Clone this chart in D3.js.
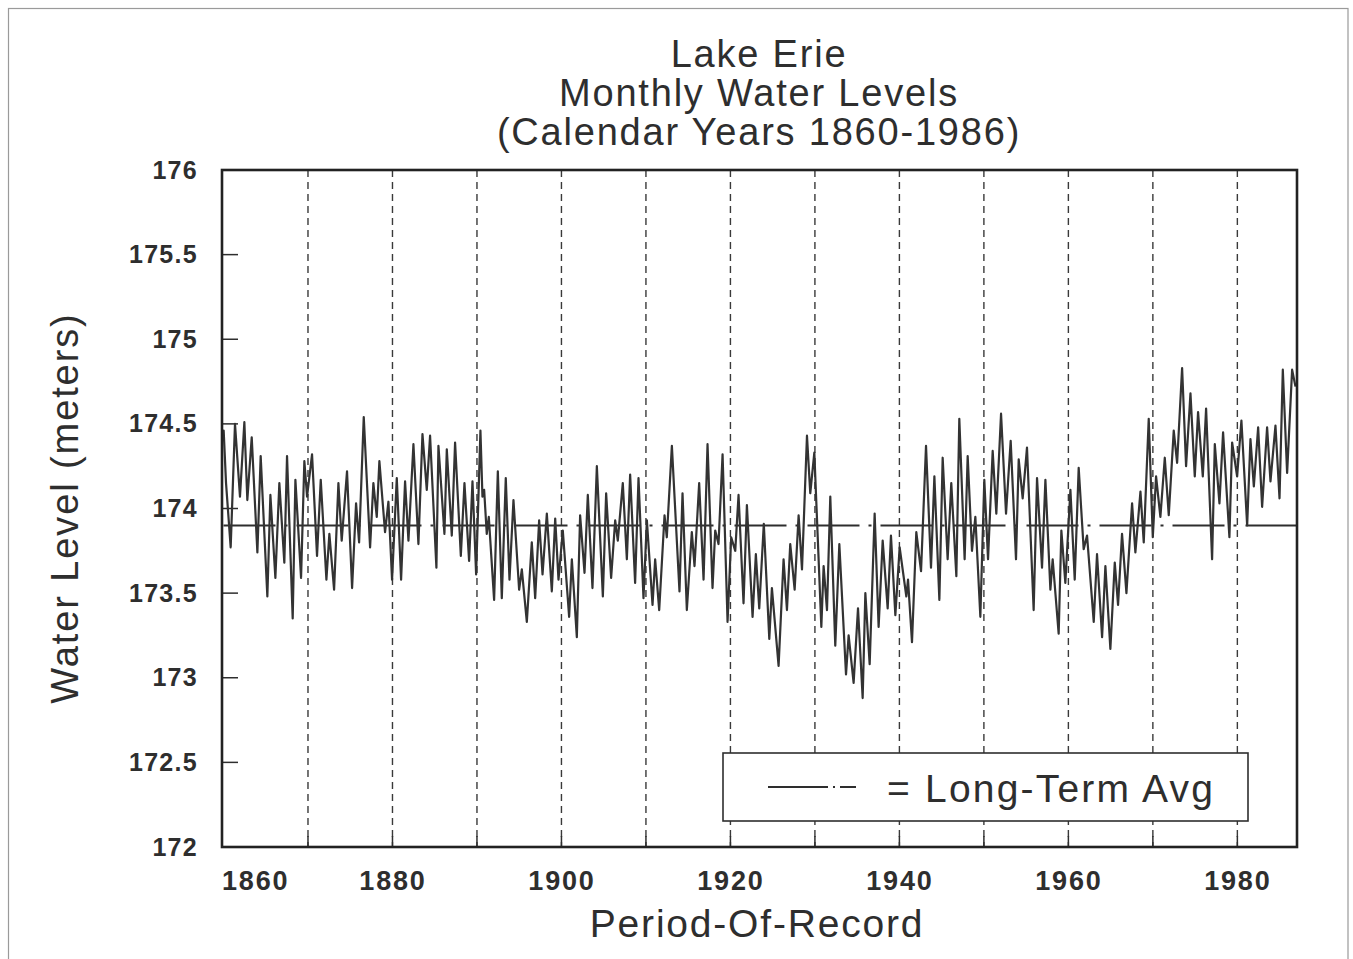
<!DOCTYPE html>
<html>
<head>
<meta charset="utf-8">
<script src="https://cdn.jsdelivr.net/npm/d3@7"></script>
<style>
  body { margin: 0; background: #fff; }
  svg { display: block; }
</style>
</head>
<body>
<svg id="chart" width="1353" height="959"></svg>
<script>
// ---------------- data ----------------
const titleLines = ["Lake Erie", "Monthly Water Levels", "(Calendar Years 1860-1986)"];
const yAxisTitle = "Water Level (meters)";
const xAxisTitle = "Period-Of-Record";
const legendText = "= Long-Term Avg";
const yTickValues = [176, 175.5, 175, 174.5, 174, 173.5, 173, 172.5, 172];
const yInnerTicks = [175.5, 175, 174.5, 174, 173.5, 173, 172.5];
const xLabelYears = [1860, 1880, 1900, 1920, 1940, 1960, 1980];
const gridYears = [1870, 1880, 1890, 1900, 1910, 1920, 1930, 1940, 1950, 1960, 1970, 1980];
const xDomain = [1860, 1987];
const yDomain = [172, 176];
const longTermAvg = 173.9;

const obsYear = [
  1860.00,1860.02,1860.30,1860.85,1861.36,1861.95,1862.47,1862.82,1863.34,1864.01,
  1864.40,1865.19,1865.55,1866.14,1866.61,1867.20,1867.52,1868.19,1868.51,1869.18,
  1869.57,1869.89,1870.48,1871.07,1871.51,1872.18,1872.53,1873.09,1873.60,1873.99,
  1874.62,1875.22,1875.69,1876.05,1876.60,1877.35,1877.74,1878.14,1878.45,1879.12,
  1879.52,1879.95,1880.51,1881.02,1881.49,1881.89,1882.48,1883.07,1883.55,1884.06,
  1884.45,1885.20,1885.44,1886.15,1886.43,1887.02,1887.41,1888.09,1888.52,1889.07,
  1889.47,1889.90,1890.41,1890.65,1890.85,1891.16,1891.40,1892.03,1892.47,1892.94,
  1893.41,1893.85,1894.32,1894.99,1895.31,1895.90,1896.49,1896.89,1897.36,1897.76,
  1898.27,1898.86,1899.26,1899.65,1900.16,1900.91,1901.23,1901.82,1902.21,1902.73,
  1903.12,1903.67,1904.19,1904.90,1905.29,1905.88,1906.36,1906.67,1907.26,1907.74,
  1908.13,1908.72,1909.12,1909.71,1910.11,1910.78,1911.09,1911.57,1912.20,1912.47,
  1913.07,1913.97,1914.33,1914.84,1915.43,1915.75,1916.30,1916.82,1917.29,1917.88,
  1918.20,1918.59,1919.07,1919.66,1920.09,1920.57,1920.96,1921.55,1921.95,1922.62,
  1923.01,1923.41,1923.95,1924.60,1924.91,1925.70,1926.29,1926.69,1927.08,1927.60,
  1928.07,1928.47,1929.06,1929.45,1929.93,1930.76,1931.03,1931.43,1931.82,1932.41,
  1932.89,1933.68,1933.99,1934.58,1935.10,1935.65,1935.97,1936.48,1937.07,1937.54,
  1938.02,1938.61,1939.00,1939.52,1940.03,1940.82,1941.02,1941.49,1942.00,1942.56,
  1943.15,1943.74,1944.14,1944.73,1945.12,1945.71,1946.14,1946.74,1947.09,1947.72,
  1948.08,1948.59,1948.99,1949.58,1950.05,1950.49,1951.04,1951.47,1952.03,1952.62,
  1953.17,1953.80,1954.12,1954.59,1955.10,1955.89,1956.29,1956.88,1957.28,1957.87,
  1958.14,1958.85,1959.17,1959.64,1960.24,1960.75,1961.22,1961.81,1962.21,1963.00,
  1963.39,1963.99,1964.38,1964.97,1965.49,1965.88,1966.35,1966.87,1967.54,1967.93,
  1968.53,1968.92,1969.51,1969.99,1970.38,1970.89,1971.41,1971.88,1972.47,1972.87,
  1973.46,1973.93,1974.45,1974.96,1975.35,1975.91,1976.30,1977.01,1977.33,1977.88,
  1978.31,1979.06,1979.38,1979.97,1980.48,1981.16,1981.55,1981.95,1982.46,1982.93,
  1983.52,1983.92,1984.51,1984.99,1985.38,1985.89,1986.48,1986.88
];
const obsLevel = [
  174.42,174.46,174.15,173.77,174.50,174.07,174.51,174.05,174.42,173.74,
  174.31,173.48,174.08,173.59,174.15,173.68,174.31,173.35,174.17,173.59,
  174.28,174.07,174.32,173.72,174.17,173.58,173.85,173.52,174.15,173.81,
  174.22,173.53,174.03,173.80,174.54,173.77,174.15,173.95,174.28,173.86,
  174.04,173.58,174.18,173.58,174.16,173.81,174.38,173.79,174.44,174.11,
  174.43,173.65,174.37,173.85,174.35,173.84,174.39,173.72,174.15,173.69,
  174.16,173.61,174.46,174.07,174.11,173.85,173.95,173.46,174.22,173.47,
  174.18,173.58,174.05,173.52,173.64,173.33,173.80,173.47,173.93,173.61,
  173.97,173.51,173.94,173.58,173.87,173.36,173.70,173.24,173.96,173.62,
  174.08,173.53,174.25,173.48,174.09,173.59,173.93,173.81,174.15,173.70,
  174.20,173.56,174.18,173.47,173.93,173.43,173.70,173.40,173.96,173.83,
  174.37,173.51,174.09,173.40,173.86,173.66,174.15,173.58,174.38,173.53,
  173.87,173.79,174.32,173.33,173.83,173.75,174.08,173.44,174.02,173.36,
  173.73,173.41,173.91,173.23,173.53,173.07,173.70,173.40,173.79,173.52,
  173.96,173.64,174.43,174.09,174.33,173.30,173.66,173.40,174.07,173.19,
  173.79,173.02,173.25,172.97,173.41,172.88,173.50,173.08,173.97,173.30,
  173.81,173.41,173.84,173.37,173.77,173.48,173.58,173.21,173.86,173.63,
  174.37,173.65,174.19,173.46,174.30,173.70,174.15,173.60,174.53,173.70,
  174.31,173.75,173.95,173.36,174.17,173.70,174.34,173.97,174.56,173.97,
  174.40,173.70,174.29,174.06,174.36,173.40,174.18,173.65,174.17,173.52,
  173.70,173.26,173.87,173.56,174.11,173.58,174.24,173.76,173.84,173.33,
  173.73,173.24,173.66,173.17,173.68,173.43,173.85,173.50,174.03,173.74,
  174.10,173.80,174.53,173.83,174.19,173.95,174.30,173.96,174.46,174.27,
  174.83,174.25,174.68,174.19,174.57,174.19,174.59,173.70,174.38,174.03,
  174.45,173.83,174.39,174.19,174.52,173.90,174.41,174.13,174.48,174.01,
  174.48,174.16,174.49,174.06,174.82,174.21,174.82,174.72
];

// ---------------- drawing ----------------
const svg = d3.select("#chart");
const ink = "#2e2e2e";
const font = "'Liberation Sans', Arial, Helvetica, sans-serif";

const plot = { left: 222, right: 1297, top: 170, bottom: 847 };
const x = d3.scaleLinear().domain(xDomain).range([223.5, 1296.5]);
const y = d3.scaleLinear().domain(yDomain).range([plot.bottom, plot.top]);

// scanned page border
svg.append("rect")
  .attr("x", 8.5).attr("y", 8.5).attr("width", 1339.5).attr("height", 1000)
  .attr("fill", "none").attr("stroke", "#9a9a9a").attr("stroke-width", 1.2);

// title
svg.append("g").selectAll("text").data(titleLines).join("text")
  .attr("x", 759).attr("y", (d, i) => 67 + i * 39)
  .attr("text-anchor", "middle")
  .attr("font-family", font).attr("font-size", 38).attr("letter-spacing", 1.8)
  .attr("fill", ink).text(d => d);

// vertical dashed grid
svg.append("g").selectAll("line").data(gridYears).join("line")
  .attr("x1", d => x(d)).attr("x2", d => x(d))
  .attr("y1", plot.top).attr("y2", plot.bottom)
  .attr("stroke", "#3a3a3a").attr("stroke-width", 1.4)
  .attr("stroke-dasharray", "7 5");

// x ticks (inside, pointing up)
svg.append("g").selectAll("line").data(gridYears).join("line")
  .attr("x1", d => x(d)).attr("x2", d => x(d))
  .attr("y1", plot.bottom).attr("y2", plot.bottom - 11)
  .attr("stroke", ink).attr("stroke-width", 1.5);

// y inner ticks
svg.append("g").selectAll("line").data(yInnerTicks).join("line")
  .attr("x1", plot.left).attr("x2", plot.left + 16)
  .attr("y1", d => y(d)).attr("y2", d => y(d))
  .attr("stroke", ink).attr("stroke-width", 1.5);

// long-term average (dash-dot)
svg.append("line")
  .attr("x1", x(xDomain[0])).attr("x2", x(xDomain[1]))
  .attr("y1", y(longTermAvg)).attr("y2", y(longTermAvg))
  .attr("stroke", ink).attr("stroke-width", 2)
  .attr("stroke-dasharray", "52 9 3 9");

// water-level trace
const series = obsYear.map((t, i) => [t, obsLevel[i]]);
svg.append("path")
  .datum(series)
  .attr("fill", "none")
  .attr("stroke", "#333")
  .attr("stroke-width", 2.2)
  .attr("stroke-linejoin", "round")
  .attr("d", d3.line().x(d => x(d[0])).y(d => y(d[1])));

// legend
const lg = svg.append("g");
lg.append("rect")
  .attr("x", 723).attr("y", 753).attr("width", 525).attr("height", 68)
  .attr("fill", "#fff").attr("stroke", ink).attr("stroke-width", 1.6);
lg.append("line")
  .attr("x1", 768).attr("x2", 856).attr("y1", 787).attr("y2", 787)
  .attr("stroke", ink).attr("stroke-width", 2)
  .attr("stroke-dasharray", "60 5 2 5 16");
lg.append("text")
  .attr("x", 887).attr("y", 802)
  .attr("font-family", font).attr("font-size", 39).attr("letter-spacing", 2.2)
  .attr("fill", ink).text(legendText);

// plot frame
svg.append("rect")
  .attr("x", plot.left).attr("y", plot.top)
  .attr("width", plot.right - plot.left).attr("height", plot.bottom - plot.top)
  .attr("fill", "none").attr("stroke", "#222").attr("stroke-width", 2.6);

// y axis labels
const yAxis = d3.axisLeft(y).tickValues(yTickValues).tickSize(0).tickPadding(24)
  .tickFormat(d => String(d));
const gy = svg.append("g").attr("transform", `translate(${plot.left},0)`).call(yAxis);
gy.select(".domain").remove();
gy.selectAll("text")
  .attr("font-family", font).attr("font-size", 25).attr("font-weight", "bold")
  .attr("letter-spacing", 1.3).attr("fill", ink);

// x axis labels
const xAxis = d3.axisBottom(x).tickValues(xLabelYears).tickSize(0).tickPadding(24)
  .tickFormat(d => String(d));
const gx = svg.append("g").attr("transform", `translate(0,${plot.bottom})`).call(xAxis);
gx.select(".domain").remove();
gx.selectAll("text")
  .attr("font-family", font).attr("font-size", 27).attr("font-weight", "bold")
  .attr("letter-spacing", 1.8).attr("fill", ink)
  .attr("text-anchor", d => d === xDomain[0] ? "start" : "middle")
  .attr("x", d => d === xDomain[0] ? -2 : 0);

// axis titles
svg.append("text")
  .attr("transform", "translate(78,508) rotate(-90)")
  .attr("text-anchor", "middle")
  .attr("font-family", font).attr("font-size", 38).attr("letter-spacing", 1.9)
  .attr("fill", ink).text(yAxisTitle);

svg.append("text")
  .attr("x", 757).attr("y", 937)
  .attr("text-anchor", "middle")
  .attr("font-family", font).attr("font-size", 39).attr("letter-spacing", 1.8)
  .attr("fill", ink).text(xAxisTitle);
</script>
</body>
</html>
